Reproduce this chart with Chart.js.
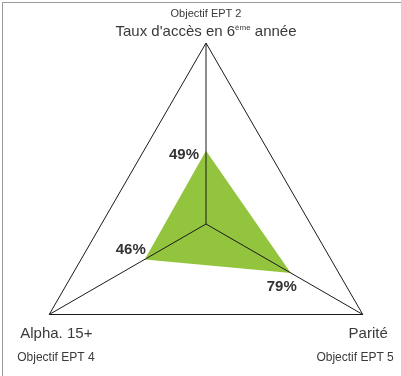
<!DOCTYPE html>
<html>
<head>
<meta charset="utf-8">
<script src="https://cdn.jsdelivr.net/npm/chart.js@4/dist/chart.umd.min.js"></script>
<style>
    body { margin: 0; background: #fff; }
    #wrap { position: relative; width: 401px; height: 376px; }
    #frame {
        position: absolute; left: 2px; top: 2px; width: 399px; height: 374px;
        border-top: 1px solid #9a9a9a; border-left: 1px solid #9a9a9a;
    }
    #myChart { position: absolute; left: 0; top: 0; }
</style>
</head>
<body>
<div id="wrap">
    <div id="frame"></div>
    <canvas id="myChart" width="401" height="376"></canvas>
</div>
<script>
let axes = ["Taux d'accès en 6ème année", "Parité", "Alpha. 15+"];
let goals = ["Objectif EPT 2", "Objectif EPT 5", "Objectif EPT 4"];
let vals = [49, 79, 46];

const FONT = "'Liberation Sans', Arial, sans-serif";

// axis titles and the % labels next to each point
const labelsPlugin = {
    id: 'labelsPlugin',
    afterDraw(chart) {
        const ctx = chart.ctx;
        const scale = chart.scales.r;
        const outer = scale.getDistanceFromCenterForValue(scale.max);
        const top = scale.getPointPosition(0, outer);
        const right = scale.getPointPosition(1, outer);
        const left = scale.getPointPosition(2, outer);

        ctx.save();
        ctx.textBaseline = 'middle';

        // top: goal line then title with superscript
        ctx.fillStyle = '#3a3a3a';
        ctx.font = '11px ' + FONT;
        ctx.textAlign = 'center';
        ctx.fillText(goals[0], top.x, top.y - 29);

        let parts = axes[0].split('ème');
        ctx.font = '15px ' + FONT;
        let w1 = ctx.measureText(parts[0]).width;
        let w3 = ctx.measureText(parts[1]).width;
        ctx.font = '8px ' + FONT;
        let w2 = ctx.measureText('ème').width;
        let x = top.x - (w1 + w2 + w3) / 2;
        let y = top.y - 11;
        ctx.textAlign = 'left';
        ctx.font = '15px ' + FONT;
        ctx.fillText(parts[0], x, y);
        ctx.font = '8px ' + FONT;
        ctx.fillText('ème', x + w1, y - 4);
        ctx.font = '15px ' + FONT;
        ctx.fillText(parts[1], x + w1 + w2, y);

        // bottom right
        ctx.textAlign = 'right';
        ctx.font = '15px ' + FONT;
        ctx.fillText(axes[1], right.x + 25, right.y + 19);
        ctx.font = '12px ' + FONT;
        ctx.fillText(goals[1], right.x + 31, right.y + 43);

        // bottom left
        ctx.textAlign = 'left';
        ctx.font = '15px ' + FONT;
        ctx.fillText(axes[2], left.x - 29, left.y + 19);
        ctx.font = '12px ' + FONT;
        ctx.fillText(goals[2], left.x - 32, left.y + 43);

        // value labels
        const pts = chart.getDatasetMeta(0).data;
        ctx.font = 'bold 15px ' + FONT;
        ctx.fillStyle = '#333';
        ctx.textAlign = 'right';
        ctx.fillText(vals[0] + '%', pts[0].x - 7, pts[0].y + 4);
        ctx.textAlign = 'center';
        ctx.fillText(vals[1] + '%', pts[1].x - 9, pts[1].y + 14);
        ctx.textAlign = 'right';
        ctx.fillText(vals[2] + '%', pts[2].x + 1, pts[2].y - 10);
        ctx.restore();
    }
};

const myChart = new Chart(document.getElementById("myChart").getContext("2d"), {
    type: 'radar',
    data: {
        labels: axes,
        datasets: [{
            data: vals,
            backgroundColor: 'rgba(146, 196, 61, 1)',
            borderWidth: 0,
            pointRadius: 0,
            fill: 'start'
        }]
    },
    options: {
        responsive: false,
        animation: false,
        plugins: {
            legend: { display: false },
            tooltip: { enabled: false }
        },
        scales: {
            r: {
                min: -40,
                max: 180,
                ticks: { display: false, stepSize: 220 },
                pointLabels: { display: false },
                grid: {
                    z: 1, // spokes on top of the green area
                    color: (c) => c.index === 0 ? 'rgba(0,0,0,0)' : '#1a1a1a',
                    lineWidth: 1
                },
                angleLines: { color: '#1a1a1a', lineWidth: 1 },
                afterFit(scale) {
                    scale.xCenter = 206;
                    scale.yCenter = 224;
                    scale.drawingArea = 181;
                }
            }
        }
    },
    plugins: [labelsPlugin]
});
</script>
</body>
</html>
